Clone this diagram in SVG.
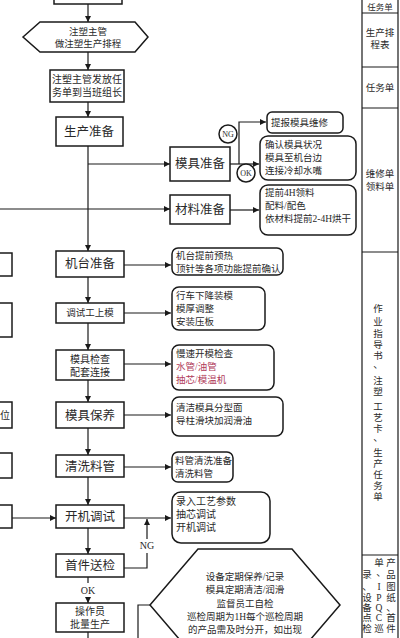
<svg xmlns="http://www.w3.org/2000/svg" width="400" height="638" viewBox="0 0 400 638">
<style>
.b{fill:#fff;stroke:#1a1a1a;stroke-width:1.5}
.r{fill:#fff;stroke:#1a1a1a;stroke-width:1.5}
.l{fill:none;stroke:#1a1a1a;stroke-width:1.2}
text{font-family:"Liberation Serif","Noto Sans CJK SC",serif;fill:#2a2a2a}
.c{text-anchor:middle}
.s{font-size:9.5px}
.m{font-size:10px}
.g{font-size:12.5px}
.red{fill:#b03a5a}
</style>
<defs>
<marker id="a" viewBox="0 0 10 10" refX="10" refY="5" markerWidth="6" markerHeight="6" orient="auto" markerUnits="userSpaceOnUse">
<path d="M0,0 L10,5 L0,10 z" fill="#1a1a1a"/>
</marker>
</defs>
<rect width="400" height="638" fill="#fff"/>

<g id="connectors">
<path class="l" d="M88,4 V22" marker-end="url(#a)"/>
<path class="l" d="M88,52 V70" marker-end="url(#a)"/>
<path class="l" d="M88,102 V117" marker-end="url(#a)"/>
<path class="l" d="M88,146 V251" marker-end="url(#a)"/>
<path class="l" d="M88,164 H170" marker-end="url(#a)"/>
<path class="l" d="M0,209 H170" marker-end="url(#a)"/>
<path class="l" d="M230,164 H259" marker-end="url(#a)"/>
<path class="l" d="M239,164 V122 H266" marker-end="url(#a)"/>
<path class="l" d="M230,210 H259" marker-end="url(#a)"/>
<path class="l" d="M124,265 H171" marker-end="url(#a)"/>
<path class="l" d="M88,277 V303" marker-end="url(#a)"/>
<path class="l" d="M124,313 H171" marker-end="url(#a)"/>
<path class="l" d="M88,323 V350" marker-end="url(#a)"/>
<path class="l" d="M124,364 H171" marker-end="url(#a)"/>
<path class="l" d="M88,380 V402" marker-end="url(#a)"/>
<path class="l" d="M124,415 H171" marker-end="url(#a)"/>
<path class="l" d="M88,428 V455" marker-end="url(#a)"/>
<path class="l" d="M124,467 H171" marker-end="url(#a)"/>
<path class="l" d="M88,477 V505" marker-end="url(#a)"/>
<path class="l" d="M12,518 H56" marker-end="url(#a)"/>
<path class="l" d="M124,518 H171" marker-end="url(#a)"/>
<path class="l" d="M88,528 V554" marker-end="url(#a)"/>
<path class="l" d="M124,568 H147 V553"/>
<path class="l" d="M147,539 V519" marker-end="url(#a)"/>
<path class="l" d="M88,577 V583"/>
<path class="l" d="M88,597 V603" marker-end="url(#a)"/>
<path class="l" d="M88,632 V638"/>
<path class="l" d="M138,638 V605 H150"/>
<text class="m c" x="147" y="549">NG</text>
<text class="m c" x="88" y="594">OK</text>
</g>

<g id="n0"><rect class="b" x="54" y="-10" width="68" height="14"/></g>
<g id="n1">
<polygon class="b" points="23,37 40,22 135,22 148,37 135,52 40,52"/>
<text class="s c" x="88" y="35">注塑主管</text>
<text class="s c" x="88" y="47">做注塑生产排程</text>
</g>
<g id="n2">
<rect class="b" x="50" y="70" width="74" height="32"/>
<text class="m c" x="87" y="83">注塑主管发放任</text>
<text class="m c" x="87" y="96">务单到当班组长</text>
</g>
<g id="n3">
<rect class="b" x="56" y="117" width="67" height="29"/>
<text class="g c" x="89" y="136">生产准备</text>
</g>
<g id="n4">
<rect class="b" x="170" y="147" width="60" height="34"/>
<text class="g c" x="200" y="168">模具准备</text>
</g>
<g id="ng1">
<circle class="b" cx="228" cy="134" r="9"/>
<text class="c" x="228" y="137" style="font-size:8px">NG</text>
</g>
<g id="ok1">
<circle class="b" cx="246" cy="173" r="9"/>
<text class="c" x="246" y="176" style="font-size:8px">OK</text>
</g>
<g id="n5">
<rect class="r" x="267" y="112" width="76" height="21" rx="5"/>
<text class="s" x="271" y="126">提报模具维修</text>
</g>
<g id="n6">
<rect class="r" x="260" y="136" width="96" height="44" rx="8"/>
<text class="s" x="265" y="148">确认模具状况</text>
<text class="s" x="265" y="161">模具至机台边</text>
<text class="s" x="265" y="174">连接冷却水嘴</text>
</g>
<g id="n7">
<rect class="b" x="170" y="195" width="60" height="29"/>
<text class="g c" x="200" y="214">材料准备</text>
</g>
<g id="n8">
<rect class="r" x="260" y="185" width="96" height="50" rx="8"/>
<text class="s" x="265" y="196">提前4H领料</text>
<text class="s" x="265" y="209">配料/配色</text>
<text class="s" x="265" y="222">依材料提前2-4H烘干</text>
</g>
<g id="n9">
<rect class="b" x="56" y="251" width="68" height="26"/>
<text class="g c" x="90" y="268">机台准备</text>
</g>
<g id="n10">
<rect class="r" x="172" y="248" width="111" height="27" rx="6"/>
<text class="s" x="176" y="259">机台提前预热</text>
<text class="s" x="176" y="272">顶针等各项功能提前确认</text>
</g>
<g id="n11">
<rect class="b" x="56" y="303" width="68" height="20"/>
<text class="s c" x="90" y="316">调试工上模</text>
</g>
<g id="n12">
<rect class="r" x="172" y="287" width="93" height="43" rx="7"/>
<text class="s" x="176" y="299">行车下降装模</text>
<text class="s" x="176" y="312">模厚调整</text>
<text class="s" x="176" y="325">安装压板</text>
</g>
<g id="n13">
<rect class="b" x="56" y="350" width="68" height="30"/>
<text class="m c" x="90" y="363">模具检查</text>
<text class="m c" x="90" y="376">配套连接</text>
</g>
<g id="n14">
<rect class="r" x="172" y="345" width="102" height="45" rx="7"/>
<text class="s" x="176" y="357">慢速开模检查</text>
<text class="s red" x="176" y="370">水管/油管</text>
<text class="s red" x="176" y="383">抽芯/模温机</text>
</g>
<g id="n15">
<rect class="b" x="56" y="402" width="68" height="26"/>
<text class="g c" x="90" y="420">模具保养</text>
</g>
<g id="n16">
<rect class="r" x="172" y="397" width="111" height="39" rx="7"/>
<text class="s" x="176" y="411">清洁模具分型面</text>
<text class="s" x="176" y="424">导柱滑块加润滑油</text>
</g>
<g id="n17">
<rect class="b" x="56" y="455" width="68" height="22"/>
<text class="g c" x="90" y="471">清洗料管</text>
</g>
<g id="n18">
<rect class="r" x="172" y="452" width="61" height="30" rx="6"/>
<text class="s" x="175" y="464">料管清洗准备</text>
<text class="s" x="175" y="477">清洗料管</text>
</g>
<g id="n19">
<rect class="b" x="56" y="505" width="68" height="23"/>
<text class="g c" x="90" y="521">开机调试</text>
</g>
<g id="n20">
<rect class="r" x="172" y="492" width="98" height="51" rx="9"/>
<text class="m" x="176" y="505">录入工艺参数</text>
<text class="m" x="176" y="518">抽芯调试</text>
<text class="m" x="176" y="531">开机调试</text>
</g>
<g id="n21">
<rect class="b" x="56" y="554" width="68" height="23"/>
<text class="g c" x="90" y="570">首件送检</text>
</g>
<g id="n22">
<rect class="b" x="56" y="603" width="68" height="29"/>
<text class="m c" x="90" y="615">操作员</text>
<text class="m c" x="90" y="628">批量生产</text>
</g>
<g id="n23">
<polygon class="b" points="150,605 198,549 292,549 340,605 292,661 198,661"/>
<text class="s c" x="245" y="580">设备定期保养/记录</text>
<text class="s c" x="245" y="593">模具定期清洁/润滑</text>
<text class="s c" x="245" y="607">监督员工自检</text>
<text class="s c" x="245" y="620">巡检周期为1H每个巡检周期</text>
<text class="s c" x="245" y="633">的产品需及时分开，如出现</text>
</g>

<g id="leftcol">
<rect class="b" x="-5" y="253" width="17" height="23"/>
<rect class="b" x="-5" y="303" width="17" height="34"/>
<rect class="b" x="-5" y="402" width="17" height="26"/>
<text class="m" x="0" y="419">位</text>
<rect class="b" x="-5" y="453" width="17" height="25"/>
<rect class="b" x="-5" y="505" width="17" height="23"/>
</g>

<g id="rightcol">
<path class="l" d="M362,0 V638 M398,0 V638 M362,13 H398 M362,67 H398 M362,108 H398 M362,252 H398 M362,555 H398"/>
<text class="c" x="380" y="10" style="font-size:8.5px">任务单</text>
<text class="s c" x="380" y="36">生产排</text>
<text class="s c" x="380" y="48">程表</text>
<text class="s c" x="380" y="91">任务单</text>
<text class="s c" x="380" y="177">维修单</text>
<text class="s c" x="380" y="190">领料单</text>
<text class="s c" x="378" y="312">作</text>
<text class="s c" x="378" y="325">业</text>
<text class="s c" x="378" y="337">指</text>
<text class="s c" x="378" y="348">导</text>
<text class="s c" x="378" y="359">书</text>
<text class="s c" x="378" y="368">、</text>
<text class="s c" x="378" y="384">注</text>
<text class="s c" x="378" y="395">塑</text>
<text class="s c" x="378" y="410">工</text>
<text class="s c" x="378" y="421">艺</text>
<text class="s c" x="378" y="432">卡</text>
<text class="s c" x="378" y="441">、</text>
<text class="s c" x="378" y="456">生</text>
<text class="s c" x="378" y="467">产</text>
<text class="s c" x="378" y="478">任</text>
<text class="s c" x="378" y="489">务</text>
<text class="s c" x="378" y="500">单</text>
<text class="s c" x="391" y="566">产</text>
<text class="s c" x="391" y="578">品</text>
<text class="s c" x="391" y="590">图</text>
<text class="s c" x="391" y="601">纸</text>
<text class="s c" x="391" y="611">、</text>
<text class="s c" x="391" y="621">首</text>
<text class="s c" x="391" y="632">件</text>
<text class="s c" x="379" y="566">单</text>
<text class="s c" x="381" y="576">、</text>
<text class="s c" x="379" y="590">I</text>
<text class="s c" x="379" y="601">P</text>
<text class="s c" x="379" y="611">Q</text>
<text class="s c" x="379" y="621">C</text>
<text class="s c" x="379" y="632">巡</text>
<text class="s c" x="367" y="578">录</text>
<text class="s c" x="367" y="590">、</text>
<text class="s c" x="367" y="601">设</text>
<text class="s c" x="367" y="611">备</text>
<text class="s c" x="367" y="621">点</text>
<text class="s c" x="367" y="632">检</text>
</g>
</svg>
